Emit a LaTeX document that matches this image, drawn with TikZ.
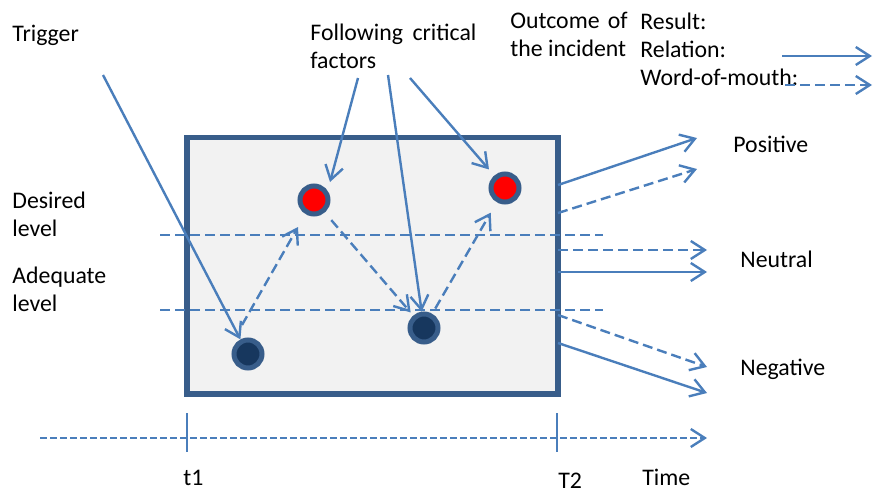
\documentclass[tikz,border=0pt]{standalone}
\usepackage{fontspec}
\setmainfont{Carlito}
\usepackage{tikz}
\usetikzlibrary{arrows.meta}
\definecolor{lineblue}{RGB}{74,126,187}
\definecolor{frameblue}{RGB}{56,93,138}
\definecolor{darkdot}{RGB}{23,55,94}
\definecolor{panelgray}{RGB}{242,242,242}
\tikzset{>/.tip={Straight Barb[length=7pt,width=9pt]},
  conn/.style={draw=lineblue, line width=1.2pt},
  dconn/.style={conn, dash pattern=on 5pt off 2.5pt},
  dot/.style={circle, draw=frameblue, line width=2.5pt, minimum size=14pt, inner sep=0pt},
  lbl/.style={anchor=base west, inner sep=0pt, align=left, font=\fontsize{11.9}{14}\selectfont}}

\begin{document}
\begin{tikzpicture}[x=0.5pt, y=-0.5pt]
\useasboundingbox (0,0) rectangle (873,493);

\node[draw=frameblue, fill=panelgray, line width=2.8pt, minimum width=185.5pt, minimum height=128.25pt, inner sep=0pt] (panel) at (372.5,265.75) {};

% multi-line labels sit on the baseline of their last line
\node[lbl] (trigger) at (12,41) {Trigger};
\node[lbl] (factors) at (310,68) {Following\hspace{0.4em}critical\\factors};
\node[lbl] (desired) at (12,236) {Desired\\level};
\node[lbl] (adequate) at (12,311) {Adequate\\level};
\node[lbl] (outcome) at (510,56) {Outcome\hspace{0.35em}of\\the incident};
\node[lbl] (kinds) at (640,85) {Result:\\Relation:\\Word-of-mouth:};
\node[lbl] (positive) at (733,152) {Positive};
\node[lbl] (neutral) at (740,267) {Neutral};
\node[lbl] (negative) at (740,375) {Negative};
\node[lbl] (t1) at (183,485) {t1};
\node[lbl] (T2) at (558,488) {T2};
\node[lbl] (time) at (642,485) {Time};

\coordinate (desiredL) at (160,235);
\coordinate (desiredR) at (603,235);
\coordinate (adequateL) at (160,310);
\coordinate (adequateR) at (603,310);
\draw[dconn] (desiredL) -- (desiredR);
\draw[dconn] (adequateL) -- (adequateR);

\node[dot, fill=darkdot] (low1) at (248,354) {};
\node[dot, fill=darkdot] (low2) at (424,328) {};
\node[dot, fill=red] (high1) at (314,200) {};
\node[dot, fill=red] (high2) at (505,188) {};

\coordinate (trig) at (103,75);
\coordinate (fa) at (358,78);
\coordinate (fb) at (388,75);
\coordinate (fc) at (410,78);
\draw[conn, ->] (trig) -- (low1);
\draw[conn, ->] (fa) -- ([shift={(16,-18)}]high1.center);
\draw[conn, ->, shorten >=4pt] (fc) -- (high2);
\draw[conn, ->] (fb) -- (low2);

\draw[dconn, ->] ([shift={(-6,-29)}]low1.center) -- ([shift={(-16,27)}]high1.center);
\draw[dconn, ->, shorten <=5pt, shorten >=2pt] (high1) -- (low2);
\draw[dconn, ->, shorten <=3pt, shorten >=6pt] (low2) -- (high2);

\coordinate (p1) at (558,185);
\coordinate (p2) at (558,213);
\coordinate (n1) at (558,250);
\coordinate (n2) at (558,272);
\coordinate (m1) at (558,315);
\coordinate (m2) at (558,343);
\coordinate (pos1) at (697,138);
\coordinate (pos2) at (697,169);
\coordinate (neu1) at (707,250);
\coordinate (neu2) at (707,272);
\coordinate (neg1) at (707,367);
\coordinate (neg2) at (707,393);
\draw[conn, ->] (p1) -- (pos1);
\draw[dconn, ->] (p2) -- (pos2);
\draw[dconn, ->] (n1) -- (neu1);
\draw[conn, ->] (n2) -- (neu2);
\draw[dconn, ->] (m1) -- (neg1);
\draw[conn, ->] (m2) -- (neg2);

\coordinate (relA) at (782,56);
\coordinate (relB) at (872,56);
\coordinate (womA) at (785,85);
\coordinate (womB) at (872,85);
\draw[conn, ->] (relA) -- (relB);
\draw[dconn, ->] (womA) -- (womB);

\coordinate (axisL) at (40,438);
\coordinate (axisR) at (707,438);
\draw[conn, dash pattern=on 3.5pt off 1.5pt, ->] (axisL) -- (axisR);
\coordinate (tickAt) at (187,413);
\coordinate (tickAb) at (187,452);
\coordinate (tickBt) at (557,413);
\coordinate (tickBb) at (557,452);
\draw[draw=lineblue, line width=0.6pt] (tickAt) -- (tickAb);
\draw[draw=lineblue, line width=0.6pt] (tickBt) -- (tickBb);
\end{tikzpicture}
\end{document}
